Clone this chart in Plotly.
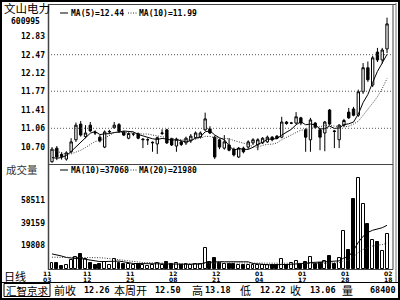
import plotly.graph_objects as go
import pandas as pd

W, H = 400, 300
def px(x): return x / W
def py(y): return 1 - y / H

# ---------------- data ----------------
opens = [10.42, 10.68, 10.56, 10.47, 10.61, 10.84, 11.14, 10.90, 11.12, 10.98,
         10.89, 10.70, 10.99, 11.07, 11.13, 10.99, 10.87, 10.95, 10.96, 10.84,
         10.84, 10.78, 10.76, 10.96, 11.03, 10.86, 10.72, 10.80, 10.78, 10.82,
         10.88, 10.89, 11.03, 11.05, 10.89, 10.84, 10.68, 10.74, 10.66, 10.51,
         10.68, 10.70, 10.78, 10.74, 10.78, 10.80, 10.89, 10.91, 10.89, 11.18,
         11.16, 11.16, 11.26, 11.03, 10.84, 11.16, 11.03, 10.97, 11.41, 11.01,
         10.84, 11.12, 11.37, 11.43, 11.31, 11.76, 12.22, 11.89, 12.52, 12.37,
         12.58]
highs = [10.70, 10.72, 10.60, 10.62, 10.87, 11.17, 11.20, 11.12, 11.18, 11.02,
         10.93, 11.02, 11.03, 11.18, 11.16, 11.01, 10.98, 10.98, 10.98, 10.87,
         10.87, 10.81, 10.90, 11.04, 11.05, 10.88, 10.88, 10.82, 10.90, 10.95,
         11.00, 11.00, 11.36, 11.10, 10.92, 10.86, 10.93, 10.87, 10.69, 10.70,
         10.71, 10.83, 10.87, 10.87, 10.89, 10.92, 10.91, 10.93, 11.28, 11.20,
         11.18, 11.37, 11.28, 11.06, 11.26, 11.18, 11.06, 11.20, 11.43, 11.03,
         11.14, 11.24, 11.45, 11.47, 11.80, 12.31, 12.34, 12.45, 12.60, 12.60,
         13.18]
lows = [10.40, 10.45, 10.46, 10.44, 10.58, 10.80, 10.90, 10.87, 10.99, 10.93,
        10.79, 10.68, 10.96, 11.05, 10.97, 10.91, 10.85, 10.91, 10.85, 10.68,
        10.74, 10.61, 10.57, 10.93, 10.76, 10.72, 10.61, 10.72, 10.74, 10.78,
        10.86, 10.87, 11.01, 10.95, 10.47, 10.66, 10.65, 10.62, 10.52, 10.49,
        10.58, 10.66, 10.74, 10.64, 10.76, 10.78, 10.81, 10.85, 10.87, 11.13,
        11.14, 11.14, 11.12, 10.61, 10.61, 11.05, 10.64, 10.62, 11.12, 10.68,
        10.68, 11.09, 11.24, 11.29, 11.28, 11.72, 11.95, 11.85, 12.33, 12.30,
        12.50]
closes = [10.66, 10.51, 10.52, 10.59, 10.80, 11.12, 10.93, 10.97, 11.01, 10.97,
          10.82, 10.99, 11.00, 11.12, 11.00, 10.93, 10.96, 10.95, 10.87, 10.85,
          10.84, 10.79, 10.88, 10.97, 10.78, 10.74, 10.85, 10.75, 10.87, 10.91,
          10.97, 10.97, 11.24, 10.97, 10.51, 10.70, 10.80, 10.64, 10.55, 10.68,
          10.61, 10.80, 10.84, 10.84, 10.87, 10.89, 10.84, 10.87, 11.18, 11.15,
          11.16, 11.28, 11.16, 10.89, 11.22, 11.08, 10.89, 11.18, 11.14, 11.00,
          11.12, 11.21, 11.26, 11.31, 11.76, 12.22, 11.99, 12.41, 12.37, 12.56,
          13.06]
volumes = [5400, 5500, 2500, 3000, 7300, 10500, 13000, 8500, 5000, 3500,
           4000, 6000, 3000, 8500, 5000, 4000, 4500, 3000, 4500, 3000,
           2500, 3500, 5500, 3000, 6000, 4000, 5000, 3000, 4000, 3500,
           4500, 4000, 17400, 6200, 9600, 5000, 4000, 4500, 4000, 3500,
           3000, 3500, 3000, 3500, 3000, 3500, 3000, 3000, 8800, 3700,
           5000, 7000, 4500, 6300, 9900, 4000, 5000, 7000, 11400, 4500,
           9500, 32000, 16500, 59000, 77000, 55000, 38500, 25000, 22500, 15000,
           30000]
# closes / volumes before the visible window (only feed the moving averages)
pre_closes = [10.90, 10.85, 10.80, 10.78, 10.77, 10.58, 10.45, 10.40, 10.41]
pre_volumes = [6000, 7000, 8000, 6500, 7500, 8000, 7000, 7500, 7000, 7500,
               12000, 14000, 15000, 13500, 14000, 13000, 14500, 13600, 13000]

tick_pos = [0, 7, 16, 25, 34, 43, 52, 61, 70]
tick_month = ["11", "11", "11", "12", "12", "01", "01", "01", "02"]
tick_day = ["03", "12", "25", "08", "21", "04", "17", "28", "18"]
price_ticks = [10.70, 11.06, 11.41, 11.77, 12.12, 12.47, 12.83]
price_grid = [11.06, 11.77, 12.47]
vol_ticks = [19808, 39159, 58511]

stock_name = "文山电力"
stock_code = "600995"
price_legend = ["MA(5)=12.44", "MA(10)=11.99"]
vol_legend = ["MA(10)=37068", "MA(20)=21980"]
status_labels = ["前收", "本周开", "高", "低", "收", "量"]
status_values = ["12.26", "12.50", "13.18", "12.22", "13.06", "68400"]

# ---------------- derived ----------------
n = len(closes)
xs = list(range(n))
cs = pd.Series(pre_closes + closes)
ma5 = cs.rolling(5).mean().iloc[len(pre_closes):].tolist()
ma10 = cs.rolling(10).mean().iloc[len(pre_closes):].tolist()
vs = pd.Series(pre_volumes + volumes)
vma10 = vs.rolling(10).mean().iloc[len(pre_volumes):].tolist()
vma20 = vs.rolling(20).mean().iloc[len(pre_volumes):].tolist()
vol_colors = ["white" if c >= o else "black" for o, c in zip(opens, closes)]

MONO = "DejaVu Sans Mono"
CJK = "Noto Sans CJK SC"

fig = go.Figure()
fig.add_trace(go.Candlestick(
    x=xs, open=opens, high=highs, low=lows, close=closes,
    increasing=dict(line=dict(color="black", width=1), fillcolor="white"),
    decreasing=dict(line=dict(color="black", width=1), fillcolor="black"),
    whiskerwidth=0, showlegend=False, xaxis="x", yaxis="y"))
fig.add_trace(go.Scatter(x=xs, y=ma5, mode="lines", line=dict(color="black", width=1),
                         showlegend=False, xaxis="x", yaxis="y"))
fig.add_trace(go.Scatter(x=xs, y=ma10, mode="lines",
                         line=dict(color="#333", width=1, dash="1px,1.5px"),
                         showlegend=False, xaxis="x", yaxis="y"))
fig.add_trace(go.Bar(x=xs, y=volumes, marker=dict(color=vol_colors, line=dict(color="black", width=1)),
                     width=0.62, showlegend=False, xaxis="x2", yaxis="y2"))
fig.add_trace(go.Scatter(x=xs, y=vma10, mode="lines", line=dict(color="black", width=1),
                         showlegend=False, xaxis="x2", yaxis="y2"))
fig.add_trace(go.Scatter(x=xs, y=vma20, mode="lines",
                         line=dict(color="#333", width=1, dash="1px,1.5px"),
                         showlegend=False, xaxis="x2", yaxis="y2"))

xr = [-0.836, 71.25]
price_range = [10.376, 13.422]
vol_range = [0, 89000]

fig.update_layout(
    width=W, height=H, margin=dict(l=0, r=0, t=0, b=0),
    paper_bgcolor="white", plot_bgcolor="white",
    bargap=0,
    xaxis=dict(domain=[px(48), px(393)], range=xr, showticklabels=False, showgrid=False,
               zeroline=False, showline=False, ticks="", rangeslider=dict(visible=False),
               anchor="y"),
    xaxis2=dict(domain=[px(48), px(393)], range=xr, showticklabels=False, showgrid=False,
                zeroline=False, showline=False, ticks="", anchor="y2", matches="x"),
    yaxis=dict(domain=[py(164), py(5)], range=price_range, tickvals=price_ticks,
               ticktext=[f"{v:.2f}" for v in price_ticks], showgrid=False, zeroline=False,
               showline=False, ticks="", ticklabelstandoff=2,
               tickfont=dict(family=MONO, size=8, color="black", weight="bold")),
    yaxis2=dict(domain=[py(269), py(164)], range=vol_range, tickvals=vol_ticks,
                ticktext=[str(v) for v in vol_ticks], showgrid=False, zeroline=False,
                showline=False, ticks="", ticklabelstandoff=2,
                tickfont=dict(family=MONO, size=8, color="black", weight="bold")),
)

shapes = []
# dotted price gridlines
for g in price_grid:
    shapes.append(dict(type="line", xref="paper", yref="y", x0=px(48), x1=px(393), y0=g, y1=g,
                       line=dict(color="#555", width=1, dash="1px,2px")))
def hline(y, x0, x1, color="black", w=1):
    shapes.append(dict(type="line", xref="paper", yref="paper", x0=px(x0), x1=px(x1),
                       y0=py(y), y1=py(y), line=dict(color=color, width=w)))
def vline(x, y0, y1, color="black", w=1):
    shapes.append(dict(type="line", xref="paper", yref="paper", x0=px(x), x1=px(x),
                       y0=py(y0), y1=py(y1), line=dict(color=color, width=w)))
# outer frame
shapes.append(dict(type="rect", xref="paper", yref="paper", x0=px(1), x1=px(399), y0=py(299), y1=py(1),
                   line=dict(color="black", width=2)))
# plot frame
vline(48.5, 4.5, 269.5, "#444", 1.5)
hline(4.5, 48, 396, "#444", 1)
vline(393, 4.5, 269.5, "#444", 1)
vline(396, 3, 282, "#777", 1)
hline(164.5, 48, 393, "#444", 1)
hline(269.5, 48, 393, "#444", 1)
hline(282.5, 0, 400, "black", 1)
# status box
shapes.append(dict(type="rect", xref="paper", yref="paper", x0=px(4), x1=px(50), y0=py(296.5), y1=py(283.5),
                   line=dict(color="black", width=1)))
# legend line samples
hline(13, 60, 68, "black", 1)
shapes.append(dict(type="line", xref="paper", yref="paper", x0=px(128), x1=px(137), y0=py(13), y1=py(13),
                   line=dict(color="#333", width=1, dash="1px,1.5px")))
hline(170, 60, 68, "black", 1)
shapes.append(dict(type="line", xref="paper", yref="paper", x0=px(128), x1=px(137), y0=py(170), y1=py(170),
                   line=dict(color="#333", width=1, dash="1px,1.5px")))
fig.update_layout(shapes=shapes)

ann = []
def text(x, y, s, size, family=MONO, anchor="left", bold=False, color="black", xref="paper", xshift=0):
    ann.append(dict(x=x if xref != "paper" else px(x), y=py(y), xref=xref, yref="paper", text=s,
                    showarrow=False, xanchor=anchor, yanchor="middle", xshift=xshift,
                    font=dict(family=family, size=size, color=color, weight="bold" if bold else "normal")))

text(2, 8.5, stock_name, 11.5, CJK)
text(42, 21.5, stock_code, 8, MONO, "right", True)
text(69, 13, price_legend[0], 8, MONO, "left", True)
text(137, 13, price_legend[1], 8, MONO, "left", True)
text(4, 169, "成交量", 10.5, CJK, color="#333")
text(69, 170, vol_legend[0], 8, MONO, "left", True)
text(137, 170, vol_legend[1], 8, MONO, "left", True)
text(2, 275.5, "日线", 11, CJK)
for i, (p, m, d) in enumerate(zip(tick_pos, tick_month, tick_day)):
    sh = -5 if i == 0 else 1
    text(p, 273, m, 6, "DejaVu Sans", "center", True, xref="x2", xshift=sh)
    text(p, 279.5, d, 6, "DejaVu Sans", "center", True, xref="x2", xshift=sh)

# status bar
text(27, 290, "汇智京求", 10.5, CJK, "center")
label_x = [52, 112, 190, 238, 288, 340]
value_x = [82, 153, 203, 258, 308, 368]
for lx, vx, lab, val in zip(label_x, value_x, status_labels, status_values):
    text(lx, 290, lab, 11, CJK, "left")
    text(vx, 290, val, 8.5, MONO, "left", True)
fig.update_layout(annotations=ann)

fig.write_html("out.html")
